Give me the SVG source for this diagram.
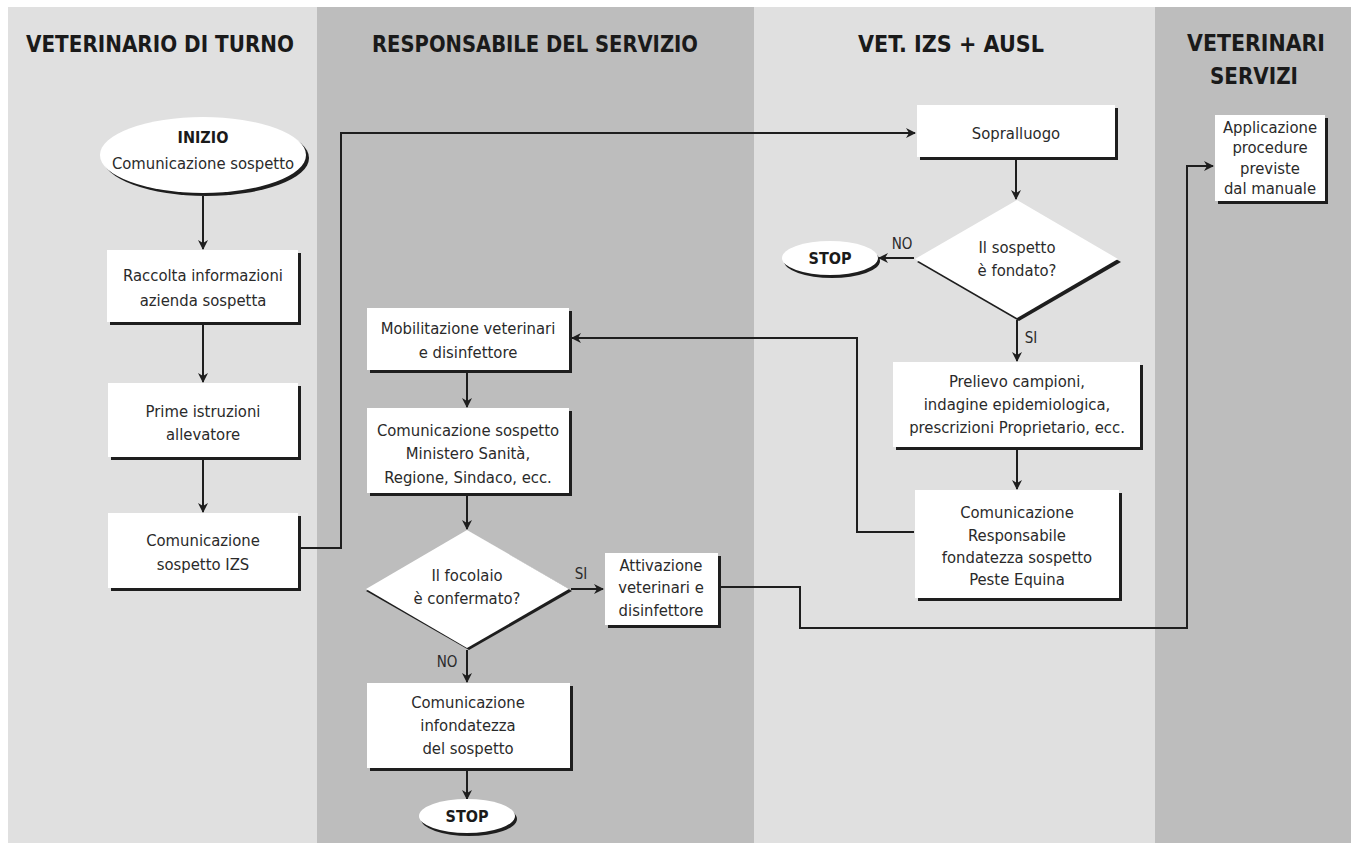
<svg xmlns="http://www.w3.org/2000/svg" width="1356" height="850" viewBox="0 0 1356 850">
<style>
.lane-l{fill:#e0e0e0}
.lane-d{fill:#bdbdbd}
.hdr{font-family:"DejaVu Sans Condensed","DejaVu Sans",sans-serif;font-weight:bold;font-size:23px;fill:#1a1a1a;text-anchor:middle}
.t{font-family:"DejaVu Sans Condensed","DejaVu Sans",sans-serif;font-size:16.5px;fill:#2a2a2a;text-anchor:middle}
.tb{font-family:"DejaVu Sans Condensed","DejaVu Sans",sans-serif;font-size:16px;font-weight:bold;fill:#1a1a1a;text-anchor:middle}
.lbl{font-family:"DejaVu Sans Condensed","DejaVu Sans",sans-serif;font-size:15px;fill:#2a2a2a;text-anchor:middle}
.sh{fill:#1e1e1e}
.bx{fill:#ffffff}
.c{fill:none;stroke:#1e1e1e;stroke-width:2}
</style>
<defs>
<marker id="ah" viewBox="0 0 10 10" refX="9" refY="5" markerWidth="10" markerHeight="10" markerUnits="userSpaceOnUse" orient="auto">
<path d="M0,0 L10,5 L0,10 L3,5 z" fill="#1e1e1e"/>
</marker>
</defs>
<rect x="0" y="0" width="1356" height="850" fill="#ffffff"/>
<g id="lanes">
<rect class="lane-l" x="8" y="7" width="309" height="836"/>
<rect class="lane-d" x="317" y="7" width="437" height="836"/>
<rect class="lane-l" x="754" y="7" width="401" height="836"/>
<rect class="lane-d" x="1155" y="7" width="196" height="836"/>
<text class="hdr" x="160" y="52" textLength="268" lengthAdjust="spacingAndGlyphs">VETERINARIO DI TURNO</text>
<text class="hdr" x="535" y="52" textLength="326" lengthAdjust="spacingAndGlyphs">RESPONSABILE DEL SERVIZIO</text>
<text class="hdr" x="951" y="52" textLength="186" lengthAdjust="spacingAndGlyphs">VET. IZS + AUSL</text>
<text class="hdr" x="1256" y="51" textLength="138" lengthAdjust="spacingAndGlyphs">VETERINARI</text>
<text class="hdr" x="1254" y="84" textLength="88" lengthAdjust="spacingAndGlyphs">SERVIZI</text>
</g>
<g id="connectors">
<line class="c" x1="203" y1="196" x2="203" y2="249" marker-end="url(#ah)"/>
<line class="c" x1="203" y1="325" x2="203" y2="382" marker-end="url(#ah)"/>
<line class="c" x1="203" y1="460" x2="203" y2="512" marker-end="url(#ah)"/>
<polyline class="c" points="301,548 341,548 341,133 915,133" marker-end="url(#ah)"/>
<line class="c" x1="1016" y1="160" x2="1016" y2="199" marker-end="url(#ah)"/>
<line class="c" x1="914" y1="258" x2="879" y2="258" marker-end="url(#ah)"/>
<line class="c" x1="1017" y1="320" x2="1017" y2="361" marker-end="url(#ah)"/>
<line class="c" x1="1017" y1="450" x2="1017" y2="489" marker-end="url(#ah)"/>
<polyline class="c" points="914,532 857,532 857,338 572,338" marker-end="url(#ah)"/>
<line class="c" x1="467" y1="373" x2="467" y2="407" marker-end="url(#ah)"/>
<line class="c" x1="467" y1="496" x2="467" y2="529" marker-end="url(#ah)"/>
<line class="c" x1="571" y1="589" x2="603" y2="589" marker-end="url(#ah)"/>
<line class="c" x1="467" y1="650" x2="467" y2="682" marker-end="url(#ah)"/>
<line class="c" x1="467" y1="771" x2="467" y2="799" marker-end="url(#ah)"/>
<polyline class="c" points="721,587 800,587 800,628 1187,628 1187,166 1213,166" marker-end="url(#ah)"/>
<text class="lbl" x="902" y="249">NO</text>
<text class="lbl" x="1031" y="343">SI</text>
<text class="lbl" x="581" y="579">SI</text>
<text class="lbl" x="447" y="667">NO</text>
</g>
<g id="n-inizio">
<ellipse class="sh" cx="206" cy="158" rx="103" ry="38"/>
<ellipse class="bx" cx="203" cy="155" rx="103" ry="38"/>
<text class="tb" x="203" y="143">INIZIO</text>
<text class="t" x="203" y="169">Comunicazione sospetto</text>
</g>
<g id="n-raccolta">
<rect class="sh" x="110" y="253" width="191" height="72"/>
<rect class="bx" x="107" y="250" width="191" height="72"/>
<text class="t" x="203" y="281">Raccolta informazioni</text>
<text class="t" x="203" y="306">azienda sospetta</text>
</g>
<g id="n-prime">
<rect class="sh" x="111" y="386" width="190" height="74"/>
<rect class="bx" x="108" y="383" width="190" height="74"/>
<text class="t" x="203" y="417">Prime istruzioni</text>
<text class="t" x="203" y="440">allevatore</text>
</g>
<g id="n-comizs">
<rect class="sh" x="111" y="516" width="190" height="75"/>
<rect class="bx" x="108" y="513" width="190" height="75"/>
<text class="t" x="203" y="546">Comunicazione</text>
<text class="t" x="203" y="570">sospetto IZS</text>
</g>
<g id="n-mobil">
<rect class="sh" x="370" y="311" width="202" height="62"/>
<rect class="bx" x="367" y="308" width="202" height="62"/>
<text class="t" x="468" y="334">Mobilitazione veterinari</text>
<text class="t" x="468" y="358">e disinfettore</text>
</g>
<g id="n-comminist">
<rect class="sh" x="370" y="411" width="202" height="85"/>
<rect class="bx" x="367" y="408" width="202" height="85"/>
<text class="t" x="468" y="436">Comunicazione sospetto</text>
<text class="t" x="468" y="459">Ministero Sanità,</text>
<text class="t" x="468" y="483">Regione, Sindaco, ecc.</text>
</g>
<g id="n-focolaio">
<polygon class="sh" points="469,532 572,591 469,650 366,591"/>
<polygon class="bx" points="467,530 569,589 467,648 366,589"/>
<text class="t" x="467" y="581">Il focolaio</text>
<text class="t" x="467" y="604">è confermato?</text>
</g>
<g id="n-attiv">
<rect class="sh" x="608" y="556" width="113" height="72"/>
<rect class="bx" x="605" y="553" width="113" height="72"/>
<text class="t" x="661" y="571">Attivazione</text>
<text class="t" x="661" y="593">veterinari e</text>
<text class="t" x="661" y="616">disinfettore</text>
</g>
<g id="n-infond">
<rect class="sh" x="370" y="686" width="203" height="85"/>
<rect class="bx" x="367" y="683" width="203" height="85"/>
<text class="t" x="468" y="708">Comunicazione</text>
<text class="t" x="468" y="731">infondatezza</text>
<text class="t" x="468" y="754">del sospetto</text>
</g>
<g id="n-stop2">
<ellipse class="sh" cx="469" cy="819" rx="48" ry="17"/>
<ellipse class="bx" cx="467" cy="816" rx="48" ry="17"/>
<text class="tb" x="467" y="822">STOP</text>
</g>
<g id="n-sopral">
<rect class="sh" x="920" y="108" width="198" height="52"/>
<rect class="bx" x="917" y="105" width="198" height="52"/>
<text class="t" x="1016" y="139">Sopralluogo</text>
</g>
<g id="n-sospetto">
<polygon class="sh" points="1019,203 1121,262 1019,321 917,262"/>
<polygon class="bx" points="1017,200 1118,259 1017,318 915,259"/>
<text class="t" x="1017" y="253">Il sospetto</text>
<text class="t" x="1017" y="276">è fondato?</text>
</g>
<g id="n-stop1">
<ellipse class="sh" cx="832" cy="261" rx="48" ry="17"/>
<ellipse class="bx" cx="830" cy="258" rx="48" ry="17"/>
<text class="tb" x="830" y="264">STOP</text>
</g>
<g id="n-prelievo">
<rect class="sh" x="896" y="365" width="247" height="85"/>
<rect class="bx" x="893" y="362" width="247" height="85"/>
<text class="t" x="1017" y="387">Prelievo campioni,</text>
<text class="t" x="1017" y="410">indagine epidemiologica,</text>
<text class="t" x="1017" y="433">prescrizioni Proprietario, ecc.</text>
</g>
<g id="n-comresp">
<rect class="sh" x="918" y="493" width="204" height="108"/>
<rect class="bx" x="915" y="490" width="204" height="108"/>
<text class="t" x="1017" y="518">Comunicazione</text>
<text class="t" x="1017" y="541">Responsabile</text>
<text class="t" x="1017" y="563">fondatezza sospetto</text>
<text class="t" x="1017" y="585">Peste Equina</text>
</g>
<g id="n-applic">
<rect class="sh" x="1218" y="118" width="110" height="86"/>
<rect class="bx" x="1215" y="115" width="110" height="86"/>
<text class="t" x="1270" y="133">Applicazione</text>
<text class="t" x="1270" y="153">procedure</text>
<text class="t" x="1270" y="174">previste</text>
<text class="t" x="1270" y="194">dal manuale</text>
</g>
</svg>
